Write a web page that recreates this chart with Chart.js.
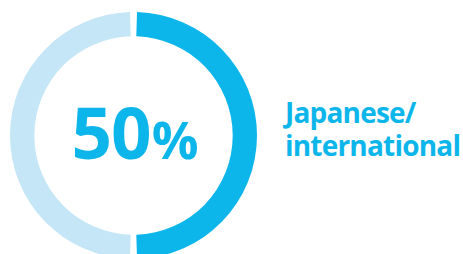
<!DOCTYPE html>
<html lang="en">
<head>
  <meta charset="UTF-8">
  <title>Japanese / international share</title>
  <script src="https://cdn.jsdelivr.net/npm/chart.js"></script>
  <style>
    body { margin: 0; width: 463px; height: 254px; overflow: hidden; background: #fff; font-family: "Open Sans", Arial, sans-serif; }
    .wrap { position: relative; width: 463px; height: 254px; }
    .ring { position: absolute; left: 10px; top: 12px; width: 247px; height: 247px; }
    .center { position: absolute; left: 60px; top: 96px; width: 150px; text-align: center; color: #0db6ea; font-weight: 700; line-height: 1; white-space: nowrap; }
    .center .num { font-size: 71px; letter-spacing: -1px; }
    .center .pct { font-size: 52px; margin-left: 1px; }
    .label { position: absolute; left: 285px; top: 96px; color: #0db6ea; font-weight: 700; font-size: 28px; line-height: 33px; letter-spacing: -0.8px; }
  </style>
</head>
<body>
<div class="wrap">
  <div class="ring"><canvas id="ring"></canvas></div>
  <div class="center"><span class="num">50</span><span class="pct">%</span></div>
  <div class="label">Japanese/<br>international</div>
</div>
<script>
  const labels = ['Japanese/international', 'Other'];
  const values = [50, 50];
  const colors = ['#0db6ea', '#c4e6f7'];

  new Chart(document.getElementById('ring'), {
    type: 'doughnut',
    data: {
      labels: labels,
      datasets: [{ data: values, backgroundColor: colors, borderWidth: 0, hoverOffset: 0 }]
    },
    options: {
      responsive: true,
      maintainAspectRatio: false,
      animation: false,
      cutout: '80%',
      spacing: 4,
      layout: { padding: 0 },
      plugins: { legend: { display: false }, tooltip: { enabled: false } }
    }
  });
</script>
</body>
</html>
